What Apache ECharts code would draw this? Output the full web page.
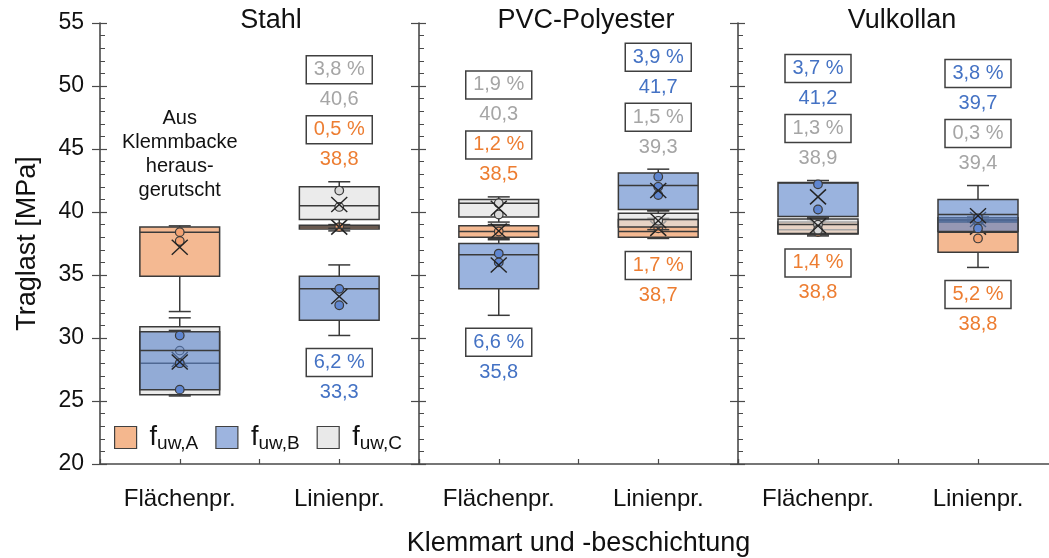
<!DOCTYPE html>
<html>
<head>
<meta charset="utf-8">
<script src="https://cdn.jsdelivr.net/npm/echarts@6/dist/echarts.min.js"></script>
<style>
  html, body { margin: 0; padding: 0; background: #ffffff; }
  #chart { width: 1049px; height: 558px; }
</style>
</head>
<body>
<div id="chart"></div>
<script>
// ---- data -------------------------------------------------------------
const panels = ['Stahl', 'PVC-Polyester', 'Vulkollan'];
const clampTypes = ['Flächenpr.', 'Linienpr.'];
const seriesNames = ['fuw,A', 'fuw,B', 'fuw,C'];
const yMin = 20, yMax = 55, yStep = 5;

// Five-number summaries [min, Q1, median, Q3, max] per column:
// Stahl F, Stahl L, PVC F, PVC L, Vulkollan F, Vulkollan L
const boxA = [
  [32.1, 34.9, 38.4, 38.8, 38.9],
  [38.5, 38.65, 38.8, 38.95, 39.0],
  [37.8, 38.0, 38.45, 38.9, 39.0],
  [37.9, 38.0, 38.45, 39.4, 39.5],
  [38.1, 38.25, 38.6, 39.2, 39.4],
  [35.6, 36.8, 38.4, 39.2, 39.5]
];
const boxB = [
  [25.5, 25.9, 29.0, 30.5, 30.6],
  [30.2, 31.4, 33.9, 34.9, 35.8],
  [31.8, 33.9, 36.6, 37.5, 37.9],
  [40.1, 40.2, 42.1, 43.1, 43.4],
  [39.6, 39.65, 42.3, 42.35, 42.5],
  [38.4, 38.45, 39.8, 41.0, 42.1]
];
const boxC = [
  [25.4, 25.5, 28.0, 30.9, 31.6],
  [38.7, 39.4, 40.5, 42.0, 42.4],
  [39.2, 39.6, 40.7, 41.0, 41.2],
  [38.6, 38.8, 39.4, 39.9, 40.1],
  [38.2, 38.3, 39.0, 39.45, 39.5],
  [39.25, 39.3, 39.4, 39.55, 39.6]
];

// Mean values (X markers and printed numbers)
const meanA = [37.2, 38.8, 38.5, 38.7, 38.8, 38.8];
const meanB = [28.1, 33.3, 35.8, 41.7, 41.2, 39.7];
const meanC = [28.3, 40.6, 40.3, 39.3, 38.9, 39.4];

// Coefficients of variation in %
const covA = [null, 0.5, 1.2, 1.7, 1.4, 5.2];
const covB = [null, 6.2, 6.6, 3.9, 3.7, 3.8];
const covC = [null, 3.8, 1.9, 1.5, 1.3, 0.3];

// Individual specimen results shown as circles
const pointsA = [[38.4, 37.7], [38.8], [38.45], [38.7], [38.4], [37.9]];
const pointsB = [[30.2, 28.0, 25.9], [33.9, 32.6], [36.7, 36.0], [42.8, 42.0, 41.35], [42.2, 40.2], [39.5, 38.7]];
const pointsC = [[29.0, 28.0], [41.7, 40.4], [40.7, 39.8], [39.3], [39.0, 38.6], [39.4]];

// Free-text remarks per column
const notes = ['Aus\nKlemmbacke\nheraus-\ngerutscht', null, null, null, null, null];

// ---- styling ----------------------------------------------------------
const FONT = "'Liberation Sans', Arial, sans-serif";
const INK = '#3a3a3a';
const groups = [
  { name: seriesNames[0], box: boxA, mean: meanA, cov: covA, pts: pointsA,
    fill: 'rgba(242,170,122,0.82)', legend: '#f4b78e', dot: '#f3a373', text: '#ed7d31' },
  { name: seriesNames[1], box: boxB, mean: meanB, cov: covB, pts: pointsB,
    fill: 'rgba(92,132,202,0.62)', legend: '#9db4df', dot: '#5f86d0', text: '#4472c4' },
  { name: seriesNames[2], box: boxC, mean: meanC, cov: covC, pts: pointsC,
    fill: 'rgba(224,224,224,0.65)', legend: '#e9e9e9', dot: '#d9d9d9', text: '#a5a5a5' }
];
const slotX = [1, 3]; // category slots on each panel's 0..4 axis

const fmt = v => v.toFixed(1).replace('.', ',');

// ---- box renderer -----------------------------------------------------
function boxRenderer(g, panel) {
  return function (params, api) {
    const col = panel * 2 + params.dataIndex;
    const x = api.value(0);
    const lo = api.value(1), q1 = api.value(2), med = api.value(3),
          q3 = api.value(4), hi = api.value(5), mean = api.value(6);
    const w = api.size([1, 0])[0];
    const cx = api.coord([x, med])[0];
    const y = v => api.coord([x, v])[1];
    const half = w / 2, cap = 11;
    const line = { stroke: INK, lineWidth: 1.5 };
    const kids = [];
    kids.push({ type: 'line', shape: { x1: cx, y1: y(q3), x2: cx, y2: y(hi) }, style: line });
    kids.push({ type: 'line', shape: { x1: cx, y1: y(q1), x2: cx, y2: y(lo) }, style: line });
    kids.push({ type: 'line', shape: { x1: cx - cap, y1: y(hi), x2: cx + cap, y2: y(hi) }, style: line });
    kids.push({ type: 'line', shape: { x1: cx - cap, y1: y(lo), x2: cx + cap, y2: y(lo) }, style: line });
    kids.push({ type: 'rect', shape: { x: cx - half, y: y(q3), width: w, height: y(q1) - y(q3) },
                style: { fill: g.fill, stroke: INK, lineWidth: 1.5 } });
    kids.push({ type: 'line', shape: { x1: cx - half, y1: y(med), x2: cx + half, y2: y(med) }, style: line });
    g.pts[col].forEach(v => {
      kids.push({ type: 'circle', shape: { cx: cx, cy: y(v), r: 4.3 },
                  style: { fill: g.dot, stroke: INK, lineWidth: 1.2 } });
    });
    const my = y(mean), mx = 8, myh = 7.5;
    kids.push({ type: 'line', shape: { x1: cx - mx, y1: my - myh, x2: cx + mx, y2: my + myh }, style: { stroke: '#222', lineWidth: 1.4 } });
    kids.push({ type: 'line', shape: { x1: cx - mx, y1: my + myh, x2: cx + mx, y2: my - myh }, style: { stroke: '#222', lineWidth: 1.4 } });
    return { type: 'group', children: kids };
  };
}

// ---- annotation renderer (means and CoV per column) --------------------
function labelBox(cx, cy, text, color) {
  return [
    { type: 'rect', shape: { x: cx - 33, y: cy - 14, width: 66, height: 28 },
      style: { fill: '#ffffff', stroke: '#404040', lineWidth: 1.5 } },
    { type: 'text', x: cx, y: cy, style: { text: text, fill: color, fontSize: 20, fontFamily: FONT,
      align: 'center', verticalAlign: 'middle' } }
  ];
}
function labelText(cx, cy, text, color) {
  return { type: 'text', x: cx, y: cy, style: { text: text, fill: color, fontSize: 20, fontFamily: FONT,
    align: 'center', verticalAlign: 'middle' } };
}
function noteRenderer(panel) {
  return function (params, api) {
    const col = panel * 2 + params.dataIndex;
    const x = api.value(0);
    const top = Math.max(...groups.map(g => g.box[col][4]));
    const bottom = Math.min(...groups.map(g => g.box[col][0]));
    const cx = api.coord([x, top])[0];
    const yTop = api.coord([x, top])[1];
    const yBot = api.coord([x, bottom])[1];
    const kids = [];
    if (notes[col]) {
      kids.push({ type: 'text', x: cx, y: yTop - 71, style: { text: notes[col], fill: '#111', fontSize: 20,
        lineHeight: 24, fontFamily: FONT, align: 'center', verticalAlign: 'middle' } });
      return { type: 'group', children: kids };
    }
    const order = groups.filter(g => g.cov[col] != null).sort((a, b) => b.mean[col] - a.mean[col]);
    const up = order.slice(0, 2), down = order.slice(2);
    up.forEach((g, k) => {
      const base = yTop - 22 - (1 - k) * 60;
      kids.push(...labelBox(cx, base - 30, fmt(g.cov[col]) + ' %', g.text));
      kids.push(labelText(cx, base, fmt(g.mean[col]), g.text));
    });
    down.forEach(g => {
      kids.push(...labelBox(cx, yBot + 27, fmt(g.cov[col]) + ' %', g.text));
      kids.push(labelText(cx, yBot + 57, fmt(g.mean[col]), g.text));
    });
    return { type: 'group', children: kids };
  };
}

// ---- axes -------------------------------------------------------------
const grids = [
  { left: 100, top: 23, width: 319, height: 441, outerBoundsMode: 'none' },
  { left: 419, top: 23, width: 319, height: 441, outerBoundsMode: 'none' },
  { left: 738, top: 23, width: 320, height: 441, outerBoundsMode: 'none' }
];
const xAxes = [], yAxes = [], series = [];
panels.forEach((p, i) => {
  xAxes.push({
    gridIndex: i, type: 'value', min: 0, max: 4, interval: 1,
    axisLine: { lineStyle: { color: '#4a4a4a', width: 1.6 } },
    axisTick: { inside: true, length: 5, lineStyle: { color: '#4a4a4a', width: 1.2 } },
    splitLine: { show: false },
    axisLabel: {
      margin: 23, color: '#111', fontSize: 24, fontFamily: FONT,
      formatter: v => (v === slotX[0] ? clampTypes[0] : v === slotX[1] ? clampTypes[1] : '')
    },
    name: i === 1 ? 'Klemmart und -beschichtung' : '',
    nameLocation: 'middle', nameGap: 66,
    nameTextStyle: { color: '#111', fontSize: 27, fontFamily: FONT }
  });
  // outer major ticks (and labels on the first panel)
  yAxes.push({
    gridIndex: i, type: 'value', min: yMin, max: yMax, interval: yStep, position: 'left',
    axisLine: { show: true, lineStyle: { color: '#4a4a4a', width: 1.6 } },
    axisTick: { show: true, inside: false, length: 8, lineStyle: { color: '#4a4a4a', width: 1.2 } },
    splitLine: { show: false },
    axisLabel: { show: i === 0, margin: 16, color: '#111', fontSize: 23, fontFamily: FONT },
    name: i === 0 ? 'Traglast [MPa]' : '',
    nameLocation: 'middle', nameGap: 59,
    nameTextStyle: { color: '#111', fontSize: 27, fontFamily: FONT }
  });
  // inner major + minor ticks
  yAxes.push({
    gridIndex: i, type: 'value', min: yMin, max: yMax, interval: yStep, position: 'left',
    axisLine: { show: false },
    axisTick: { show: true, inside: true, length: 7, lineStyle: { color: '#4a4a4a', width: 1.2 } },
    minorTick: { show: true, splitNumber: 5, length: 5, lineStyle: { color: '#4a4a4a', width: 1 } },
    splitLine: { show: false }, minorSplitLine: { show: false },
    axisLabel: { show: false }
  });
});

// draw order: A, C, B (blue on top)
[0, 2, 1].forEach(gi => {
  const g = groups[gi];
  panels.forEach((p, i) => {
    series.push({
      type: 'custom', name: g.name, xAxisIndex: i, yAxisIndex: i * 2,
      itemStyle: { color: g.legend },
      data: slotX.map((sx, k) => [sx].concat(g.box[i * 2 + k], [g.mean[i * 2 + k]])),
      renderItem: boxRenderer(g, i), silent: true
    });
  });
});
panels.forEach((p, i) => {
  series.push({
    type: 'custom', name: 'labels-' + i, xAxisIndex: i, yAxisIndex: i * 2,
    data: slotX.map(sx => [sx, yMin]),
    renderItem: noteRenderer(i), silent: true, z: 10
  });
});

const titleX = [271, 586, 902];
const option = {
  animation: false,
  backgroundColor: '#ffffff',
  grid: grids,
  xAxis: xAxes,
  yAxis: yAxes,
  legend: {
    data: seriesNames, left: 109, top: 419, icon: 'rect', itemWidth: 22, itemHeight: 22, itemGap: 17,
    itemStyle: { borderColor: '#404040', borderWidth: 1.2 },
    formatter: n => '{f|f}{s|' + n.slice(1) + '}',
    textStyle: {
      color: '#111', fontFamily: FONT,
      rich: {
        f: { fontSize: 27, fontFamily: FONT, color: '#111', padding: [0, 0, 0, 8] },
        s: { fontSize: 19, fontFamily: FONT, color: '#111', padding: [12, 0, 0, 0] }
      }
    }
  },
  graphic: panels.map((p, i) => ({
    type: 'text', x: titleX[i], y: 21,
    style: { text: p, fontSize: 27, fontFamily: FONT, fill: '#111', align: 'center', verticalAlign: 'middle' }
  })),
  series: series
};

const chart = echarts.init(document.getElementById('chart'), null, { renderer: 'canvas' });
chart.setOption(option);
</script>
</body>
</html>
